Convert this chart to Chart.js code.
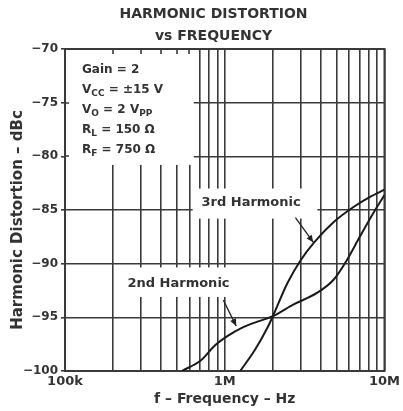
<!DOCTYPE html>
<html><head><meta charset="utf-8">
<script src="https://cdn.jsdelivr.net/npm/chart.js@4.4.1/dist/chart.umd.min.js"></script>
<style>html,body{margin:0;padding:0;background:#fff;overflow:hidden}canvas{display:block}</style>
</head><body>
<canvas id="c" width="403" height="411"></canvas>
<script>
// ---- data ----
const titleLines = ['HARMONIC DISTORTION', 'vs FREQUENCY'];
const xTitle = 'f – Frequency – Hz';
const yTitle = 'Harmonic Distortion – dBc';
const xTickValues = [1e5,2e5,3e5,4e5,5e5,6e5,7e5,8e5,9e5,1e6,2e6,3e6,4e6,5e6,6e6,7e6,8e6,9e6,1e7];
const xTickLabels = {100000:'100k', 1000000:'1M', 10000000:'10M'};
const yTickValues = [-100,-95,-90,-85,-80,-75,-70];
const freq2 = [5.4e5, 7.1e5, 8.7e5, 1.05e6, 1.27e6, 1.6e6, 2.0e6, 2.7e6, 3.8e6, 4.8e6, 5.8e6, 7.0e6, 8.5e6, 1e7];
const db2   = [-100, -99.0, -97.6, -96.7, -96.0, -95.4, -94.9, -93.8, -92.7, -91.5, -89.7, -87.5, -85.3, -83.6];
const freq3 = [1.25e6, 1.55e6, 1.86e6, 2.0e6, 2.47e6, 2.98e6, 3.64e6, 4.83e6, 6.43e6, 8.07e6, 1e7];
const db3   = [-100, -98.0, -95.9, -94.9, -91.8, -89.7, -88.0, -86.1, -84.7, -83.8, -83.1];
const conditions = [
  [['Gain = 2', false]],
  [['V', false], ['CC', true], [' = ±15 V', false]],
  [['V', false], ['O', true], [' = 2 V', false], ['PP', true]],
  [['R', false], ['L', true], [' = 150 Ω', false]],
  [['R', false], ['F', true], [' = 750 Ω', false]]
];
const seriesLabels = ['2nd Harmonic', '3rd Harmonic'];
// label anchors (freq, dB) and arrows [tailF, tailDb, tipF, tipDb]
const label2At = [2.46e5, -91.9];
const label3At = [7.15e5, -84.35];
const arrow2 = [9.8e5, -93.4, 1.18e6, -95.8];
const arrow3 = [2.77e6, -85.7, 3.58e6, -88.0];
// white areas behind text [f0, f1, db0, db1]
const gapBoxes = [
  [1e5, 6.4e5, -70, -80.8],
  [6.3e5, 3.8e6, -83.0, -85.8],
  [2.2e5, 1.21e6, -90.35, -93.1]
];

const FONT = "'DejaVu Sans', sans-serif";
const TXT = '#333';
const GRID = '#3a3a3a';

const decor = {
  id: 'decor',
  beforeDatasetsDraw(chart) {
    const {ctx, chartArea: a, scales: {x, y}} = chart;
    ctx.save();
    ctx.fillStyle = '#fff';
    for (const b of gapBoxes) {
      const x0 = x.getPixelForValue(b[0]), x1 = x.getPixelForValue(b[1]);
      const y0 = y.getPixelForValue(b[2]), y1 = y.getPixelForValue(b[3]);
      ctx.fillRect(Math.min(x0,x1), Math.min(y0,y1), Math.abs(x1-x0), Math.abs(y1-y0));
    }
    ctx.strokeStyle = GRID; ctx.lineWidth = 1.6;
    ctx.beginPath();
    for (const v of [2e5,3e5,4e5,5e5,6e5]) {
      const px = Math.round(x.getPixelForValue(v));
      ctx.moveTo(px, a.top); ctx.lineTo(px, a.top + 5);
    }
    for (const v of [-75,-80]) {
      const py = Math.round(y.getPixelForValue(v));
      ctx.moveTo(a.left, py); ctx.lineTo(a.left + 4, py);
    }
    ctx.stroke();
    ctx.lineWidth = 2;
    ctx.strokeRect(a.left, a.top, a.right - a.left, a.bottom - a.top);

    // title
    ctx.fillStyle = TXT;
    ctx.textAlign = 'center'; ctx.textBaseline = 'middle';
    ctx.font = `bold 14px ${FONT}`;
    ctx.fillText(titleLines[0], chart.width/2 + 12, 14);
    ctx.fillText(titleLines[1], chart.width/2 + 12, 36);

    // y axis title
    ctx.save();
    ctx.translate(18, (a.top + a.bottom) / 2 + 10);
    ctx.rotate(-Math.PI / 2);
    ctx.font = `bold 15px ${FONT}`;
    ctx.fillText(yTitle, 0, 0);
    ctx.restore();

    // conditions
    ctx.textAlign = 'left'; ctx.textBaseline = 'alphabetic';
    conditions.forEach((line, i) => {
      let cx = a.left + 17;
      const by = a.top + 24 + i * 20;
      for (const [t, sub] of line) {
        ctx.font = sub ? `bold 9px ${FONT}` : `bold 12px ${FONT}`;
        ctx.fillText(t, cx, sub ? by + 3 : by);
        cx += ctx.measureText(t).width;
      }
    });

    // series labels
    ctx.font = `bold 13px ${FONT}`;
    ctx.textBaseline = 'middle';
    ctx.fillText(seriesLabels[0], x.getPixelForValue(label2At[0]), y.getPixelForValue(label2At[1]));
    ctx.fillText(seriesLabels[1], x.getPixelForValue(label3At[0]), y.getPixelForValue(label3At[1]));
    ctx.restore();
  },
  afterDatasetsDraw(chart) {
    const {ctx, scales: {x, y}} = chart;
    ctx.save();
    ctx.strokeStyle = '#222'; ctx.fillStyle = '#222'; ctx.lineWidth = 1.3;
    for (const ar of [arrow2, arrow3]) {
      const x0 = x.getPixelForValue(ar[0]), y0 = y.getPixelForValue(ar[1]);
      const x1 = x.getPixelForValue(ar[2]), y1 = y.getPixelForValue(ar[3]);
      const ang = Math.atan2(y1 - y0, x1 - x0);
      ctx.beginPath(); ctx.moveTo(x0, y0); ctx.lineTo(x1, y1); ctx.stroke();
      const L = 7, W = 3.2;
      ctx.beginPath();
      ctx.moveTo(x1, y1);
      ctx.lineTo(x1 - L*Math.cos(ang) + W*Math.sin(ang), y1 - L*Math.sin(ang) - W*Math.cos(ang));
      ctx.lineTo(x1 - L*Math.cos(ang) - W*Math.sin(ang), y1 - L*Math.sin(ang) + W*Math.cos(ang));
      ctx.closePath(); ctx.fill();
    }
    ctx.restore();
  }
};

new Chart(document.getElementById('c'), {
  type: 'line',
  data: {
    datasets: [
      { label: seriesLabels[0], data: freq2.map((f, i) => ({x: f, y: db2[i]})) },
      { label: seriesLabels[1], data: freq3.map((f, i) => ({x: f, y: db3[i]})) }
    ]
  },
  options: {
    responsive: false,
    animation: false,
    devicePixelRatio: 1,
    layout: { padding: { top: 49, right: 15, left: 0, bottom: 0 } },
    elements: {
      line: { borderColor: '#1a1a1a', borderWidth: 2, cubicInterpolationMode: 'monotone', fill: false },
      point: { radius: 0 }
    },
    plugins: { legend: { display: false }, tooltip: { enabled: false }, title: { display: false } },
    scales: {
      x: {
        type: 'logarithmic', min: 1e5, max: 1e7,
        afterBuildTicks: s => { s.ticks = xTickValues.map(v => ({value: v})); },
        afterFit: s => { s.height = 40; },
        ticks: {
          autoSkip: false, maxRotation: 0, minRotation: 0, padding: 3,
          color: TXT, font: { family: FONT, size: 13, weight: 'bold' },
          callback: v => xTickLabels[v] || ''
        },
        grid: { color: GRID, lineWidth: 1.6, drawTicks: false },
        border: { display: false },
        title: { display: true, text: xTitle, color: TXT, font: { family: FONT, size: 14, weight: 'bold' }, padding: { top: 0, bottom: 3 } }
      },
      y: {
        type: 'linear', min: -100, max: -70,
        afterBuildTicks: s => { s.ticks = yTickValues.map(v => ({value: v})); },
        afterFit: s => { s.width = 65; },
        ticks: {
          padding: 3, color: TXT, font: { family: FONT, size: 12, weight: 'bold' },
          callback: v => '−' + Math.abs(v)
        },
        grid: { color: GRID, lineWidth: 1.6, drawTicks: true, tickLength: 4 },
        border: { display: false },
        title: { display: false }
      }
    }
  },
  plugins: [decor]
});
</script>
</body></html>
